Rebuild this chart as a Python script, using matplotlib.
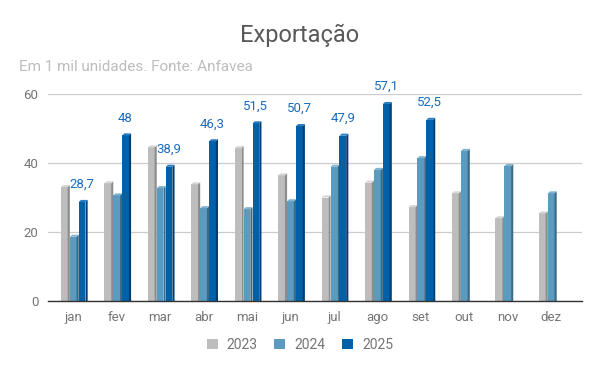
import matplotlib
matplotlib.use('Agg')
import numpy as np
import matplotlib.pyplot as plt
from matplotlib.patches import Polygon, Patch

plt.rcParams['font.family'] = ['Roboto', 'DejaVu Sans']

# ─── data ────────────────────────────────────────────────────────────────────
months = ['jan', 'fev', 'mar', 'abr', 'mai', 'jun',
          'jul', 'ago', 'set', 'out', 'nov', 'dez']
exp_2023 = [33.0, 34.1, 44.5, 33.8, 44.3, 36.4, 30.0, 34.3, 27.2, 31.2, 24.0, 25.4]
exp_2024 = [18.6, 30.6, 32.7, 26.9, 26.6, 28.9, 38.9, 38.0, 41.4, 43.5, 39.1, 31.2]
exp_2025 = [28.7, 48.0, 38.9, 46.3, 51.5, 50.7, 47.9, 57.1, 52.5]

series = [('2023', exp_2023, '#bdbdbd', '#8c8c8c', '#d6d6d6'),
          ('2024', exp_2024, '#5b9bbf', '#3b6a84', '#7fb3d0'),
          ('2025', exp_2025, '#0061a8', '#003e70', '#2a7cc0')]

# ─── plot ────────────────────────────────────────────────────────────────────
fig = plt.figure(figsize=(6.0, 3.71), dpi=100)
ax = fig.add_axes([0.08, 0.1887, 0.89, 0.5579])

pitch = 0.205      # distance between bars in a group
w = 0.155          # front face width
dx, dy = 0.05, 0.6 # fake 3D depth (x in category units, y in data units)

x = np.arange(len(months))
for k, (name, vals, col, side, top) in enumerate(series):
    xs = x[:len(vals)] + (k - 1) * pitch
    ax.bar(xs, vals, width=w, color=col, linewidth=0, zorder=3)
    for xc, v in zip(xs, vals):
        xl, xr = xc - w / 2, xc + w / 2
        ax.add_patch(Polygon([(xr, 0), (xr + dx, 0), (xr + dx, v + dy), (xr, v)],
                             closed=True, facecolor=side, linewidth=0, zorder=3))
        ax.add_patch(Polygon([(xl, v), (xl + dx, v + dy), (xr + dx, v + dy), (xr, v)],
                             closed=True, facecolor=top, linewidth=0, zorder=3))

# value labels for 2025
xs25 = x[:len(exp_2025)] + pitch
for xc, v in zip(xs25, exp_2025):
    txt = f'{v:g}'.replace('.', ',')
    ax.annotate(txt, (xc, v), xytext=(0, 12.5), textcoords='offset points',
                ha='center', va='center', fontsize=9.5, color='#1a6cbf',
                annotation_clip=False, zorder=5)

ax.set_xlim(-0.58, 11.71)
ax.set_ylim(0, 60)
ax.set_yticks([0, 20, 40, 60])
ax.set_xticks(x)
ax.set_xticklabels(months)
ax.tick_params(axis='both', length=0, labelsize=9.5, colors='#757575')
ax.tick_params(axis='y', pad=7)
ax.tick_params(axis='x', pad=7)
ax.grid(axis='y', color='#cccccc', linewidth=0.9, zorder=0)
for s in ('top', 'right', 'left'):
    ax.spines[s].set_visible(False)
ax.spines['bottom'].set_color('#333333')
ax.spines['bottom'].set_linewidth(1.0)
ax.spines['bottom'].set_zorder(4)

fig.text(0.5, 1 - 35 / 371, 'Exportação', ha='center', va='center',
         fontsize=17, color='#595959')
fig.text(19 / 600, 1 - 67 / 371, 'Em 1 mil unidades. Fonte: Anfavea',
         ha='left', va='center', fontsize=11, color='#bdbdbd')

handles = [Patch(facecolor=c, edgecolor='none', label=n) for n, _, c, _, _ in series]
fig.legend(handles=handles, loc='center', bbox_to_anchor=(0.5, 1 - 345 / 371),
           ncol=3, frameon=False, fontsize=10, labelcolor='#757575',
           handlelength=0.8, handleheight=0.8, handletextpad=0.65,
           columnspacing=1.2)

fig.savefig('out.png', dpi=100)
